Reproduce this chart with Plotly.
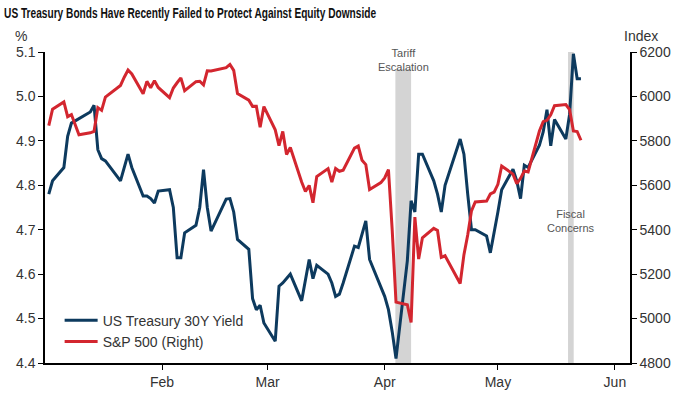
import plotly.graph_objects as go

dates = [
    "2025-01-02","2025-01-03","2025-01-06","2025-01-07","2025-01-08","2025-01-10","2025-01-13","2025-01-14",
    "2025-01-15","2025-01-16","2025-01-17","2025-01-21","2025-01-22","2025-01-23","2025-01-24","2025-01-27",
    "2025-01-28","2025-01-29","2025-01-30","2025-01-31",
    "2025-02-03","2025-02-04","2025-02-05","2025-02-06","2025-02-07","2025-02-10","2025-02-11","2025-02-12",
    "2025-02-13","2025-02-14","2025-02-18","2025-02-19","2025-02-20","2025-02-21","2025-02-24","2025-02-25",
    "2025-02-26","2025-02-27","2025-02-28",
    "2025-03-03","2025-03-04","2025-03-05","2025-03-06","2025-03-07","2025-03-10","2025-03-11","2025-03-12",
    "2025-03-13","2025-03-14","2025-03-17","2025-03-18","2025-03-19","2025-03-20","2025-03-21","2025-03-24",
    "2025-03-25","2025-03-26","2025-03-27","2025-03-28","2025-03-31",
    "2025-04-01","2025-04-02","2025-04-03","2025-04-04","2025-04-07","2025-04-08","2025-04-09","2025-04-10",
    "2025-04-11","2025-04-14","2025-04-15","2025-04-16","2025-04-17","2025-04-21","2025-04-22","2025-04-23",
    "2025-04-24","2025-04-25","2025-04-28","2025-04-29","2025-04-30",
    "2025-05-01","2025-05-02","2025-05-05","2025-05-06","2025-05-07","2025-05-08","2025-05-09","2025-05-12",
    "2025-05-13","2025-05-14","2025-05-15","2025-05-16","2025-05-19","2025-05-20","2025-05-21","2025-05-22",
    "2025-05-23",
]

ust30y = [
    4.78, 4.81, 4.84, 4.91, 4.94, 4.95, 4.965, 4.98,
    4.88, 4.86, 4.855, 4.81, 4.84, 4.87, 4.84, 4.776,
    4.776, 4.77, 4.76, 4.787,
    4.79, 4.75, 4.637, 4.637, 4.693, 4.71, 4.75, 4.835,
    4.75, 4.697, 4.769, 4.77, 4.74, 4.678, 4.656, 4.545,
    4.52, 4.53, 4.49,
    4.449, 4.573, 4.58, 4.59, 4.60, 4.54, 4.59, 4.633,
    4.59, 4.62, 4.60, 4.58, 4.55, 4.555, 4.58, 4.663,
    4.66, 4.69, 4.72, 4.633, 4.573,
    4.55, 4.52, 4.47, 4.41, 4.63, 4.765, 4.74, 4.87,
    4.87, 4.81, 4.78, 4.74, 4.80, 4.904, 4.87, 4.78,
    4.70, 4.70, 4.686, 4.648, 4.69,
    4.74, 4.79, 4.836, 4.81, 4.77, 4.845, 4.84, 4.89,
    4.92, 4.97, 4.889, 4.948, 4.904, 4.96, 5.096, 5.04,
    5.04,
]

spx = [
    5868.55, 5942.47, 5975.38, 5909.03, 5918.25, 5827.04, 5836.22, 5842.91,
    5949.91, 5937.34, 5996.66, 6049.24, 6086.37, 6118.71, 6101.24, 6012.28,
    6067.70, 6039.31, 6071.17, 6040.53,
    5994.57, 6037.88, 6061.48, 6083.57, 6025.99, 6066.44, 6068.50, 6051.97,
    6115.07, 6114.63, 6129.58, 6144.15, 6117.52, 6013.13, 5983.25, 5955.25,
    5956.06, 5861.57, 5954.50,
    5849.72, 5778.15, 5842.63, 5738.52, 5770.20, 5614.56, 5572.07, 5599.30,
    5521.52, 5638.94, 5675.12, 5614.66, 5675.29, 5662.89, 5667.56, 5767.57,
    5776.65, 5712.20, 5693.31, 5580.94, 5611.85,
    5633.07, 5670.97, 5396.52, 5074.08, 5062.25, 4982.77, 5456.90, 5268.05,
    5363.36, 5405.97, 5396.63, 5275.70, 5282.70, 5158.20, 5287.76, 5375.86,
    5484.77, 5525.21, 5528.75, 5560.83, 5569.06,
    5604.14, 5686.67, 5650.38, 5606.91, 5631.28, 5663.94, 5659.91, 5844.19,
    5886.55, 5892.58, 5916.93, 5958.38, 5963.60, 5940.46, 5844.61, 5842.01,
    5802.82,
]

month_ticks = ["2025-02-01", "2025-03-01", "2025-04-01", "2025-05-01", "2025-06-01"]
month_labels = ["Feb", "Mar", "Apr", "May", "Jun"]

events = ["Tariff<br>Escalation", "Fiscal<br>Concerns"]
event_start = ["2025-04-03 20:00", "2025-05-19 14:00"]
event_end = ["2025-04-08 00:00", "2025-05-21 02:00"]

BLUE = "#0d3a5e"
RED = "#d3262f"
GREY_TXT = "#333333"
FONT = "Liberation Sans, Arial, sans-serif"

fig = go.Figure()
fig.add_trace(go.Scatter(x=dates, y=ust30y, name="US Treasury 30Y Yield", mode="lines",
                         line=dict(color=BLUE, width=3), yaxis="y"))
fig.add_trace(go.Scatter(x=dates, y=spx, name="S&P 500 (Right)", mode="lines",
                         line=dict(color=RED, width=3), yaxis="y2"))

# event bands
fig.add_shape(type="rect", xref="x", yref="paper", x0=event_start[0], x1=event_end[0],
              y0=0, y1=0.945, fillcolor="#d4d4d4", line_width=0, layer="below")
fig.add_shape(type="rect", xref="x", yref="paper", x0=event_start[1], x1=event_end[1],
              y0=0, y1=1.0, fillcolor="#d4d4d4", line_width=0, layer="below")

fig.add_annotation(x="2025-04-06", xref="x", y=1.0, yref="paper", yanchor="middle", yshift=-8,
                   text=events[0], showarrow=False, align="center",
                   font=dict(family=FONT, size=11, color="#555555"))
fig.add_annotation(x="2025-05-20 08:00", xref="x", y=0.457, yref="paper", yanchor="middle",
                   text=events[1], showarrow=False, align="center",
                   font=dict(family=FONT, size=11, color="#555555"))

fig.add_annotation(x=0, xref="paper", y=1, yref="paper", xanchor="center", yanchor="bottom",
                   xshift=-24, yshift=6, text="%", showarrow=False,
                   font=dict(family=FONT, size=14, color=GREY_TXT))
fig.add_annotation(x=1, xref="paper", y=1, yref="paper", xanchor="center", yanchor="bottom",
                   xshift=11, yshift=6, text="Index", showarrow=False,
                   font=dict(family=FONT, size=14, color=GREY_TXT))

fig.update_layout(
    width=682, height=397,
    margin=dict(l=45, r=52, t=52, b=34, autoexpand=False),
    paper_bgcolor="white", plot_bgcolor="white",
    title=dict(text="US Treasury Bonds Have Recently Failed to Protect Against Equity Downside",
               x=0.006, xanchor="left", y=0.968, yanchor="middle",
               font=dict(family=FONT, size=15, color="#111111", weight=700)),
    showlegend=True,
    legend=dict(x=0.025, y=0.017, xanchor="left", yanchor="bottom", bgcolor="rgba(0,0,0,0)",
                font=dict(family=FONT, size=14, color=GREY_TXT), tracegroupgap=0, itemwidth=33),
    xaxis=dict(type="date", range=["2025-01-01", "2025-06-05"], tickvals=month_ticks,
               ticktext=month_labels, showgrid=False, zeroline=False, showline=True,
               linecolor="black", linewidth=1.5, ticks="outside", ticklen=5, tickcolor="black",
               automargin=False, tickfont=dict(family=FONT, size=14, color=GREY_TXT)),
    yaxis=dict(range=[4.4, 5.1], dtick=0.1, tickformat=".1f", showgrid=False, zeroline=False,
               showline=True, linecolor="black", linewidth=1.5, ticks="outside", ticklen=5,
               automargin=False, tickcolor="black", tickfont=dict(family=FONT, size=14, color=GREY_TXT)),
    yaxis2=dict(range=[4800, 6200], dtick=200, overlaying="y", side="right", showgrid=False,
                zeroline=False, showline=True, linecolor="black", linewidth=1.5, ticks="outside",
                automargin=False, ticklen=5, tickcolor="black",
                tickfont=dict(family=FONT, size=14, color=GREY_TXT)),
)

post = (
    "document.body.style.margin='0px';"
    "var t=document.querySelector('.gtitle');"
    "if(t){t.setAttribute('textLength','372');t.setAttribute('lengthAdjust','spacingAndGlyphs');}"
)

fig.write_html("out.html", post_script=post, config={"displayModeBar": False})
